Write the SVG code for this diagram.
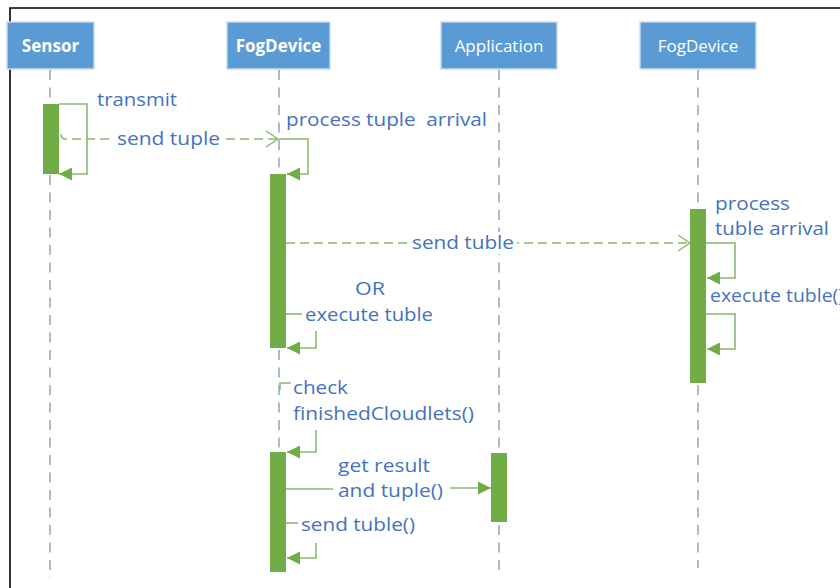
<svg xmlns="http://www.w3.org/2000/svg" width="840" height="588" viewBox="0 0 840 588">
<defs>
<style>
.hdr{fill:#5B9BD5;stroke:#C9DAEE;stroke-width:1.5}
.ht{font-family:"Open Sans","Noto Sans",sans-serif;font-size:17px;fill:#ffffff;text-anchor:middle}
.b{font-weight:bold}
.life{stroke:#A9BBD1;stroke-width:2;stroke-dasharray:10 7.5;fill:none}
.act{fill:#70AD47}
.msg{stroke:#8DB870;stroke-width:1.6;fill:none}
.dash{stroke:#8DB870;stroke-width:1.6;fill:none;stroke-dasharray:9 5}
.lbl{font-family:"Open Sans","Noto Sans",sans-serif;font-size:18px;fill:#4472C4}
.frame{stroke:#000;stroke-width:1.6;fill:none}
</style>
<marker id="fill" viewBox="0 0 13 13" refX="13" refY="6.5" markerWidth="13" markerHeight="13" markerUnits="userSpaceOnUse" orient="auto">
<path d="M0,0 L13,6.5 L0,13 Z" fill="#70AD47"/>
</marker>
<marker id="open" viewBox="0 0 14 18" refX="13" refY="9" markerWidth="14" markerHeight="18" markerUnits="userSpaceOnUse" orient="auto">
<path d="M1,1 L13,9 L1,17" fill="none" stroke="#8DB870" stroke-width="1.4"/>
</marker>
</defs>
<rect width="840" height="588" fill="#ffffff"/>
<path class="frame" d="M10,600 L10,8 L850,8"/>

<g id="lifelines">
<line class="life" x1="50" y1="70" x2="50" y2="578"/>
<line class="life" x1="279" y1="70" x2="279" y2="572"/>
<line class="life" x1="499" y1="70" x2="499" y2="576"/>
<line class="life" x1="698" y1="70" x2="698" y2="568"/>
</g>

<g id="sensor">
<rect class="hdr" x="7" y="22" width="87" height="47"/>
<text class="ht b" x="50.5" y="52">Sensor</text>
<rect class="act" x="43" y="104" width="16" height="70"/>
</g>
<g id="fogdevice1">
<rect class="hdr" x="227" y="22" width="103" height="47"/>
<text class="ht b" x="278.5" y="52">FogDevice</text>
<rect class="act" x="270" y="174" width="16" height="174"/>
<rect class="act" x="270" y="452" width="16" height="120"/>
</g>
<g id="application">
<rect class="hdr" x="441" y="22" width="116" height="47"/>
<text class="ht" x="499" y="52">Application</text>
<rect class="act" x="491" y="453" width="16" height="69"/>
</g>
<g id="fogdevice2">
<rect class="hdr" x="640" y="22" width="116" height="47"/>
<text class="ht" x="698" y="52">FogDevice</text>
<rect class="act" x="690" y="209" width="16" height="174"/>
</g>

<g id="connectors">
<path class="msg" d="M59,104 H87 V174 H59" marker-end="url(#fill)"/>
<path class="dash" d="M61,134 Q61,139 66,139 H278" marker-end="url(#open)"/>
<path class="msg" d="M279,139 H308 V174 H287" marker-end="url(#fill)"/>
<path class="dash" d="M286,243 H690" marker-end="url(#open)"/>
<path class="msg" d="M706,243 H735 V278 H707" marker-end="url(#fill)"/>
<path class="msg" d="M706,314 H735 V349 H707" marker-end="url(#fill)"/>
<path class="msg" d="M286,314 H302"/>
<path class="msg" d="M316,331 V348 H287" marker-end="url(#fill)"/>
<path class="msg" d="M280,390 V383 H291"/>
<path class="msg" d="M316,430 V452 H287" marker-end="url(#fill)"/>
<path class="msg" d="M286,489 H333"/>
<path class="msg" d="M450,488 H491" marker-end="url(#fill)"/>
<path class="msg" d="M286,523 H298"/>
<path class="msg" d="M316,543 V558 H287" marker-end="url(#fill)"/>
</g>

<g id="labels">
<text class="lbl" x="97" y="106" textLength="80" lengthAdjust="spacingAndGlyphs">transmit</text>
<rect x="113" y="128" width="110" height="20" fill="#ffffff"/>
<text class="lbl" x="117" y="145" textLength="103" lengthAdjust="spacingAndGlyphs">send tuple</text>
<text class="lbl" x="286" y="126" xml:space="preserve" textLength="201" lengthAdjust="spacingAndGlyphs">process tuple  arrival</text>
<rect x="409" y="232" width="108" height="22" fill="#ffffff"/>
<text class="lbl" x="412" y="249" textLength="102" lengthAdjust="spacingAndGlyphs">send tuble</text>
<text class="lbl" x="715" y="210" textLength="75" lengthAdjust="spacingAndGlyphs">process</text>
<text class="lbl" x="715" y="235" textLength="114" lengthAdjust="spacingAndGlyphs">tuble arrival</text>
<text class="lbl" x="710" y="302" textLength="134" lengthAdjust="spacingAndGlyphs">execute tuble()</text>
<text class="lbl" x="355" y="295" textLength="30" lengthAdjust="spacingAndGlyphs">OR</text>
<text class="lbl" x="305" y="321" textLength="128" lengthAdjust="spacingAndGlyphs">execute tuble</text>
<text class="lbl" x="293" y="394" textLength="55" lengthAdjust="spacingAndGlyphs">check</text>
<text class="lbl" x="293" y="420" textLength="181" lengthAdjust="spacingAndGlyphs">finishedCloudlets()</text>
<text class="lbl" x="338" y="472" textLength="92" lengthAdjust="spacingAndGlyphs">get result</text>
<text class="lbl" x="338" y="497" textLength="105" lengthAdjust="spacingAndGlyphs">and tuple()</text>
<text class="lbl" x="301" y="531" textLength="114" lengthAdjust="spacingAndGlyphs">send tuble()</text>
</g>
</svg>
